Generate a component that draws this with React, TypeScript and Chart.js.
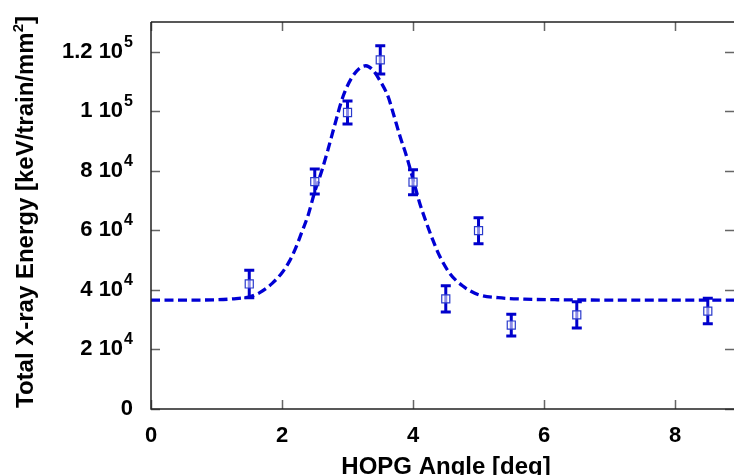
import React, { useEffect, useRef } from 'react';
import { Chart, registerables } from 'chart.js';

Chart.register(...registerables);

// Measured data (HOPG angle in degrees, energy in keV/train/mm^2)
const angles = [1.5, 2.5, 3, 3.5, 4, 4.5, 5, 5.5, 6.5, 8.5];
const energies = [42000, 76400, 99600, 117300, 76200, 37000, 59900, 28200, 31600, 32900];
const errors = [4650, 4200, 3900, 4750, 4200, 4400, 4350, 3650, 4400, 4300];

// Fit curve
const fitAngles = [0, 0.6, 1.0, 1.3, 1.5, 1.66, 1.85, 2.0, 2.11, 2.2, 2.3, 2.4, 2.5, 2.6, 2.7, 2.8, 2.93, 3.06, 3.18, 3.28, 3.38, 3.49, 3.62, 3.7, 3.8, 3.9, 4.0, 4.1, 4.2, 4.3, 4.41, 4.56, 4.76, 5.0, 5.3, 5.7, 6.2, 7.0, 8.0, 8.9];
const fitEnergies = [36600, 36600, 36700, 37100, 37700, 39100, 42200, 45800, 49500, 53600, 59300, 65200, 73000, 79500, 87000, 95000, 104900, 111100, 114400, 115300, 114000, 110500, 104900, 99200, 91700, 85000, 77200, 69300, 62800, 56900, 51200, 45600, 41300, 38400, 37400, 36900, 36700, 36600, 36600, 36600];

// Axes
const xMin = 0;
const xMax = 8.9;
const yMin = 0;
const yMax = 130000;
const xTicks = [0, 2, 4, 6, 8];
const yTicks = [0, 20000, 40000, 60000, 80000, 100000, 120000];
const yTickMantissa = ['0', '2', '4', '6', '8', '1', '1.2'];
const yTickExponent = ['', '4', '4', '4', '4', '5', '5'];
const xTitle = 'HOPG Angle [deg]';
const yTitleMain = 'Total X-ray Energy [keV/train/mm';
const yTitleSup = '2';
const yTitleEnd = ']';

const FONT = '"Liberation Sans", Arial, Helvetica, sans-serif';

const decorPlugin = {
  id: 'decor',
  afterDatasetDraw(chart: any, args: any) {
    if (args.index !== 0) return;
    const ctx = chart.ctx;
    const xs = chart.scales.x;
    const ys = chart.scales.y;
    ctx.save();
    ctx.strokeStyle = '#0000cc';
    ctx.lineWidth = 3;
    ctx.lineCap = 'butt';
    angles.forEach((a, i) => {
      const px = xs.getPixelForValue(a);
      const top = ys.getPixelForValue(energies[i] + errors[i]);
      const bot = ys.getPixelForValue(energies[i] - errors[i]);
      ctx.beginPath();
      ctx.moveTo(px, top);
      ctx.lineTo(px, bot);
      ctx.moveTo(px - 5, top);
      ctx.lineTo(px + 5, top);
      ctx.moveTo(px - 5, bot);
      ctx.lineTo(px + 5, bot);
      ctx.stroke();
    });
    ctx.restore();
  },
  afterDraw(chart: any) {
    const ctx = chart.ctx;
    const xs = chart.scales.x;
    const ys = chart.scales.y;
    const { left, right, top, bottom } = chart.chartArea;
    ctx.save();
    // tick marks
    ctx.strokeStyle = '#666';
    ctx.lineWidth = 1.5;
    const tl = 9;
    ctx.beginPath();
    xTicks.forEach((v) => {
      const px = Math.round(xs.getPixelForValue(v)) + 0.5;
      ctx.moveTo(px, bottom);
      ctx.lineTo(px, bottom - tl);
      ctx.moveTo(px, top);
      ctx.lineTo(px, top + tl);
    });
    yTicks.forEach((v) => {
      const py = Math.round(ys.getPixelForValue(v)) + 0.5;
      ctx.moveTo(left, py);
      ctx.lineTo(left + tl, py);
      ctx.moveTo(right, py);
      ctx.lineTo(right - tl, py);
    });
    ctx.stroke();
    // frame
    ctx.strokeStyle = '#222';
    ctx.lineWidth = 1.5;
    ctx.beginPath();
    ctx.moveTo(left, top);
    ctx.lineTo(right, top);
    ctx.moveTo(left, top);
    ctx.lineTo(left, bottom);
    ctx.lineTo(right, bottom);
    ctx.stroke();

    // x tick labels
    ctx.fillStyle = '#000';
    ctx.font = `bold 22px ${FONT}`;
    ctx.textAlign = 'center';
    ctx.textBaseline = 'alphabetic';
    xTicks.forEach((v) => {
      ctx.fillText(String(v), xs.getPixelForValue(v), 442);
    });

    // y tick labels with superscripts
    const rightEdge = 133;
    ctx.textAlign = 'left';
    yTicks.forEach((v, i) => {
      const py = ys.getPixelForValue(v);
      const base = yTickExponent[i] ? `${yTickMantissa[i]} 10` : yTickMantissa[i];
      ctx.font = `bold 16px ${FONT}`;
      const wSup = yTickExponent[i] ? ctx.measureText(yTickExponent[i]).width + 1 : 0;
      ctx.font = `bold 22px ${FONT}`;
      const wBase = ctx.measureText(base).width;
      const x0 = rightEdge - wSup - wBase;
      const baseline = py + 6;
      ctx.fillText(base, x0, baseline);
      if (yTickExponent[i]) {
        ctx.font = `bold 16px ${FONT}`;
        ctx.fillText(yTickExponent[i], x0 + wBase + 1, baseline - 11);
      }
    });

    // x title
    ctx.font = `bold 24px ${FONT}`;
    ctx.textAlign = 'center';
    ctx.fillText(xTitle, 446, 474);

    // y title (rotated)
    ctx.translate(32.5, 212);
    ctx.rotate(-Math.PI / 2);
    ctx.font = `bold 24px ${FONT}`;
    const wMain = ctx.measureText(yTitleMain).width;
    const wEnd = ctx.measureText(yTitleEnd).width;
    ctx.font = `bold 15px ${FONT}`;
    const wS = ctx.measureText(yTitleSup).width;
    const total = wMain + wS + wEnd;
    let cx = -total / 2;
    ctx.textAlign = 'left';
    ctx.font = `bold 24px ${FONT}`;
    ctx.fillText(yTitleMain, cx, 0);
    cx += wMain;
    ctx.font = `bold 15px ${FONT}`;
    ctx.fillText(yTitleSup, cx, -10);
    cx += wS;
    ctx.font = `bold 24px ${FONT}`;
    ctx.fillText(yTitleEnd, cx, 0);
    ctx.restore();
  },
};

export default function App() {
  const canvasRef = useRef<HTMLCanvasElement | null>(null);

  useEffect(() => {
    const canvas = canvasRef.current;
    if (!canvas) return;
    const chart = new Chart(canvas, {
      type: 'line',
      data: {
        datasets: [
          {
            type: 'line',
            data: fitAngles.map((x, i) => ({ x, y: fitEnergies[i] })),
            borderColor: '#0000d4',
            borderWidth: 3.3,
            borderDash: [9, 4.5],
            pointRadius: 0,
            cubicInterpolationMode: 'monotone',
            fill: false,
            order: 2,
          } as any,
          {
            type: 'scatter',
            data: angles.map((x, i) => ({ x, y: energies[i] })),
            pointStyle: 'rect',
            pointRadius: 5.7,
            borderWidth: 1.2,
            borderColor: '#2a3acc',
            backgroundColor: 'rgba(255,255,255,0.55)',
            showLine: false,
            order: 1,
          } as any,
        ],
      },
      options: {
        animation: false,
        responsive: false,
        devicePixelRatio: 1,
        layout: { autoPadding: false, padding: { left: 151, top: 22, right: 0, bottom: 66 } },
        plugins: { legend: { display: false }, tooltip: { enabled: false } },
        scales: {
          x: { type: 'linear', min: xMin, max: xMax, display: false },
          y: { type: 'linear', min: yMin, max: yMax, display: false },
        },
      },
      plugins: [decorPlugin],
    });
    return () => chart.destroy();
  }, []);

  return (
    <div style={{ position: 'absolute', left: 0, top: 0, width: 734, height: 475, background: '#fff' }}>
      <canvas ref={canvasRef} width={734} height={475} style={{ display: 'block' }} />
    </div>
  );
}
